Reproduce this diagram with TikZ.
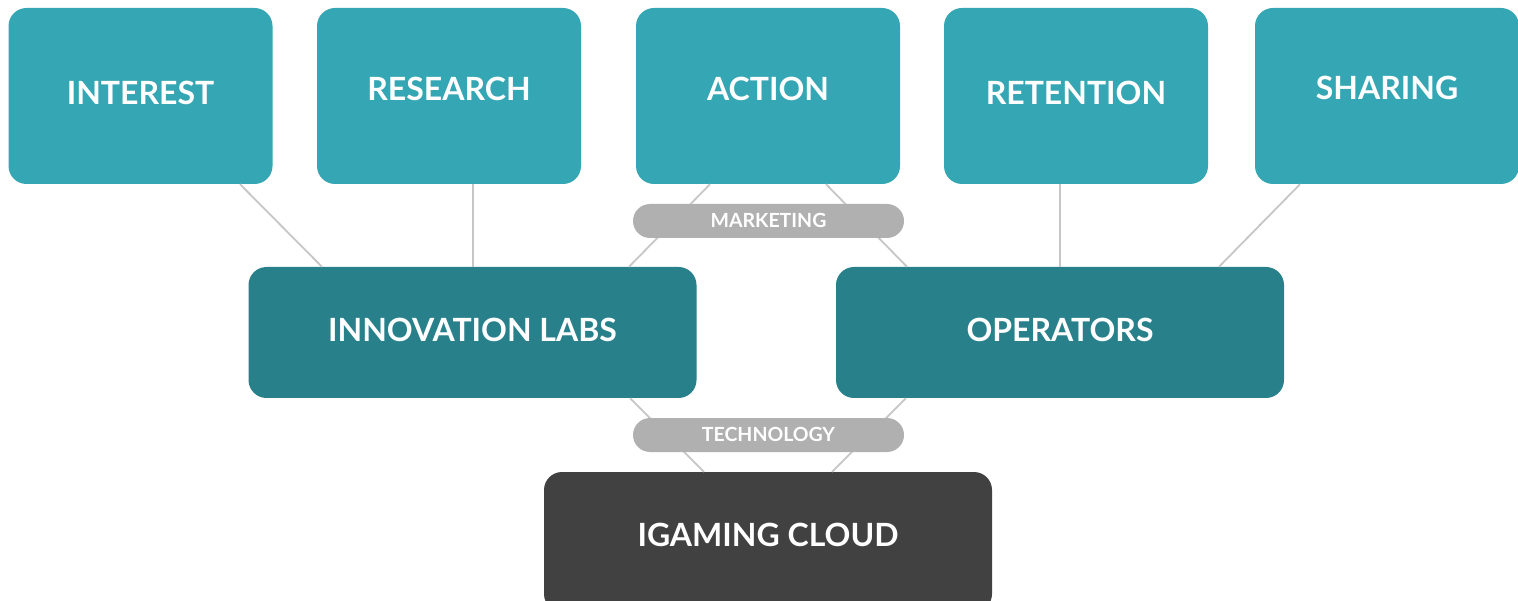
\documentclass[tikz,border=0pt]{standalone}
\usepackage{fontspec}
\setmainfont{Lato}
\definecolor{topteal}{HTML}{35A6B3}
\definecolor{midteal}{HTML}{27808A}
\definecolor{darkbox}{HTML}{414141}
\definecolor{pillgray}{HTML}{B0B0B0}
\definecolor{linegray}{HTML}{C6C6C6}
\begin{document}
\begin{tikzpicture}[x=1pt,y=-1pt,
  box/.style={rectangle, rounded corners=18pt, inner sep=0pt, draw=none},
  topbox/.style={box, fill=topteal, minimum width=264pt, minimum height=176pt},
  midbox/.style={box, fill=midteal, minimum width=448pt, minimum height=131pt},
  basebox/.style={box, fill=darkbox, minimum width=448pt, minimum height=131pt},
  pill/.style={rectangle, rounded corners=17pt, fill=pillgray, inner sep=0pt, minimum width=271pt, minimum height=34pt, text=white, font=\bfseries\fontsize{19.5}{20}\selectfont, text height=14pt, text depth=0pt},
  lbl/.style={inner sep=0pt, text=white, font=\bfseries\fontsize{32}{33}\selectfont, text height=23pt, text depth=0pt},
  conn/.style={draw=linegray, line width=1.8pt}]
\useasboundingbox (0,0) rectangle (1518,601);
% boxes
\node[topbox] (interest) at (140.5,96) {};
\node[topbox] (research) at (449,96) {};
\node[topbox] (action) at (768,96) {};
\node[topbox] (retention) at (1076,96) {};
\node[topbox] (sharing) at (1387,96) {};
\node[midbox] (innov) at (472.5,332.5) {};
\node[midbox] (oper) at (1060,332.5) {};
\node[basebox, minimum height=140pt] (cloud) at (768,542) {};
% connectors
\draw[conn] (interest.south -| 240,0) -- (innov.north -| 322,0);
\draw[conn] (research.south -| 473,0) -- (innov.north -| 473,0);
\draw[conn] (action.south -| 710,0) -- (innov.north -| 629,0);
\draw[conn] (action.south -| 826,0) -- (oper.north -| 907,0);
\draw[conn] (retention.south -| 1060,0) -- (oper.north -| 1060,0);
\draw[conn] (sharing.south -| 1300,0) -- (oper.north -| 1219,0);
\draw[conn] (innov.south -| 630,0) -- (cloud.north -| 704,0);
\draw[conn] (oper.south -| 906,0) -- (cloud.north -| 832,0);
% pills
\node[pill] (marketing) at (768.5,221) {MARKETING};
\node[pill] (technology) at (768.5,435) {TECHNOLOGY};
% labels
\node[lbl] (tInterest) at (140.5,93) {INTEREST};
\node[lbl] (tResearch) at (449,89) {RESEARCH};
\node[lbl] (tAction) at (768,89) {ACTION};
\node[lbl] (tRetention) at (1076,93) {RETENTION};
\node[lbl] (tSharing) at (1387,88) {SHARING};
\node[lbl] (tInnov) at (472.5,330) {INNOVATION LABS};
\node[lbl] (tOper) at (1060,330) {OPERATORS};
\node[lbl] (tCloud) at (768,535) {IGAMING CLOUD};
\end{tikzpicture}
\end{document}
